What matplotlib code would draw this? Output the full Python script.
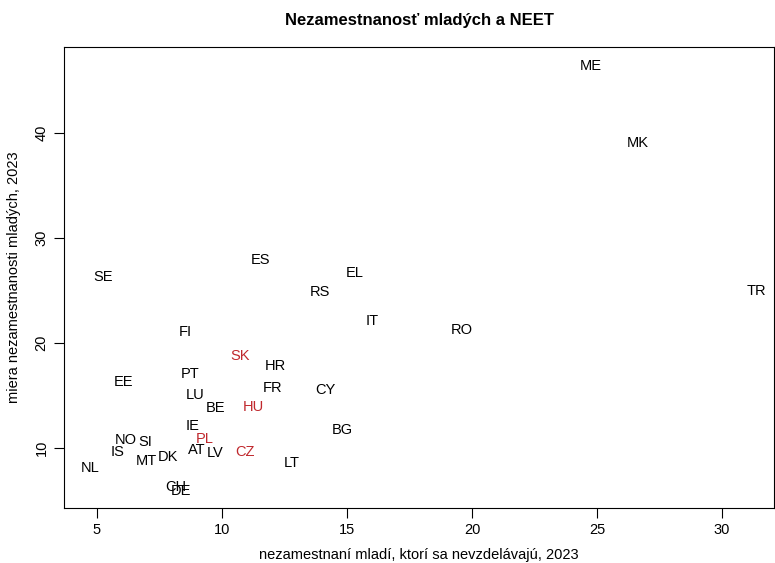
import matplotlib
matplotlib.use("Agg")
import matplotlib.pyplot as plt

plt.rcParams['font.family'] = ['Liberation Sans', 'DejaVu Sans']

# krajiny a hodnoty
countries = ["ME", "MK", "TR", "SE", "ES", "EL", "RS", "IT", "RO", "FI",
             "SK", "HR", "PT", "EE", "FR", "CY", "LU", "BE", "HU", "BG",
             "IE", "NO", "SI", "PL", "AT", "IS", "CZ", "LV", "MT", "DK",
             "LT", "NL", "CH", "DE"]
neet = [24.76, 26.64, 31.36, 5.24, 11.52, 15.32, 13.92, 16.0, 19.6, 8.52,
        10.72, 12.12, 8.72, 6.04, 12.04, 14.12, 8.92, 9.72, 11.24, 14.8,
        8.84, 6.16, 6.92, 9.32, 9.0, 5.84, 10.92, 9.72, 6.96, 7.84,
        12.8, 4.72, 8.16, 8.36]
unemp = [46.4, 39.1, 25.0, 26.3, 27.9, 26.7, 24.9, 22.1, 21.2, 21.1,
         18.8, 17.8, 17.1, 16.3, 15.7, 15.5, 15.1, 13.8, 13.9, 11.7,
         12.1, 10.8, 10.6, 10.9, 9.8, 9.6, 9.6, 9.5, 8.8, 9.1,
         8.6, 8.1, 6.3, 5.9]
highlight = ["SK", "HU", "PL", "CZ"]

fig = plt.figure(figsize=(7.75, 5.63), dpi=100)
ax = fig.add_axes([0.0826, 0.0977, 0.9161, 0.8188])

for c, x, y in zip(countries, neet, unemp):
    col = "#c0282d" if c in highlight else "black"
    ax.text(x, y, c, ha="center", va="center", fontsize=10.5, color=col)

ax.set_xlim(3.68, 32.08)
ax.set_ylim(4.29, 48.2)
ax.set_xticks([5, 10, 15, 20, 25, 30])
ax.set_yticks([10, 20, 30, 40])
ax.tick_params(direction="out", length=7, labelsize=10.5, pad=4)
for lab in ax.get_yticklabels():
    lab.set_rotation(90)
    lab.set_va("center")

ax.set_xlabel("nezamestnaní mladí, ktorí sa nevzdelávajú, 2023", fontsize=10.5, labelpad=8)
ax.set_ylabel("miera nezamestnanosti mladých, 2023", fontsize=10.5, labelpad=10)
ax.set_title("Nezamestnanosť mladých a NEET", fontsize=12, fontweight="bold", pad=16)

fig.savefig("out.png", dpi=100)
